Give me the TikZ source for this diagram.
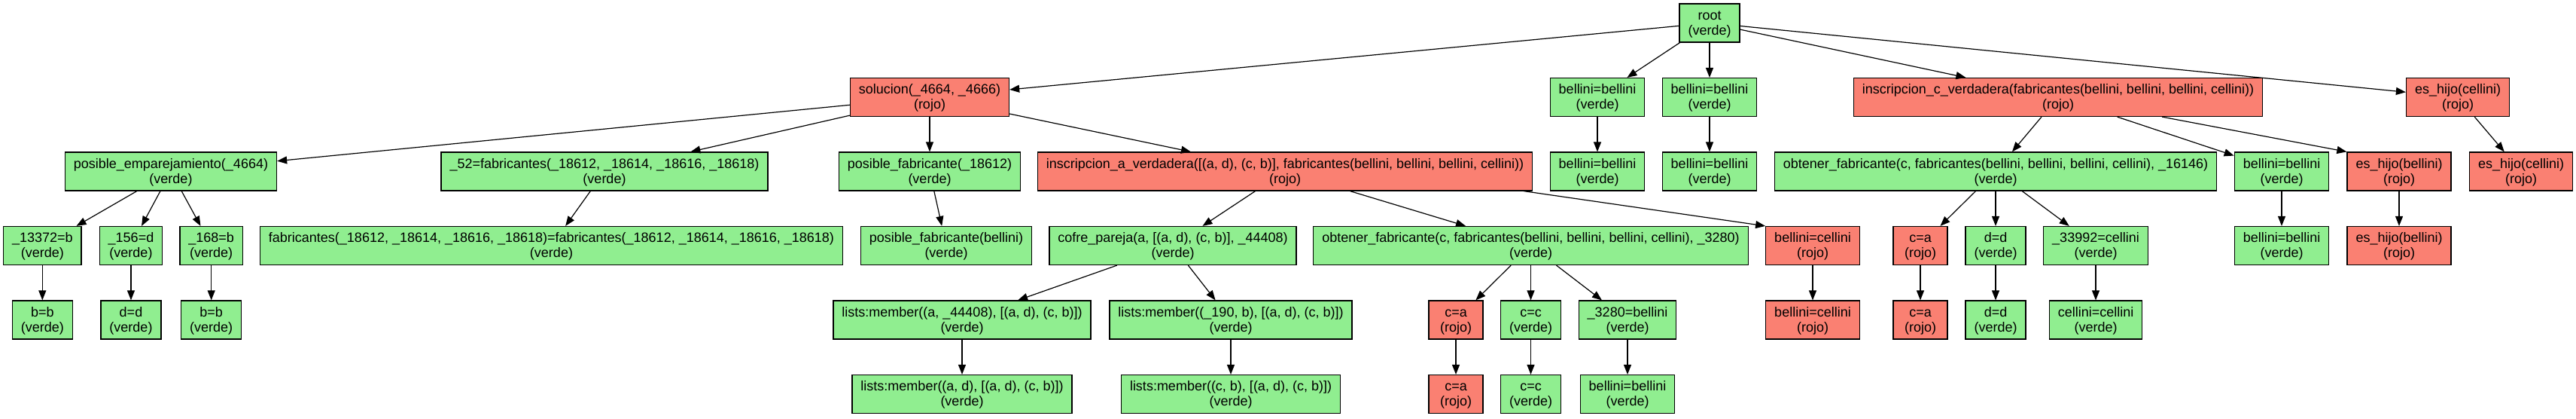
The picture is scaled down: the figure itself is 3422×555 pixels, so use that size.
\documentclass[tikz,border=0pt]{standalone}
\usepackage{fontspec}
\setmainfont{Liberation Sans}
\usepackage{tikz}
\usetikzlibrary{arrows.meta,positioning}
\definecolor{verdeclaro}{HTML}{90EE90}
\definecolor{salmon}{HTML}{FA8072}
\tikzset{%
verde/.style={rectangle, draw=black, line width=1.2pt, fill=verdeclaro, align=center, minimum width=72pt, minimum height=51pt, inner xsep=11.5pt, inner ysep=0pt, text height=34.8pt, text depth=3.2pt, font=\fontsize{18pt}{20pt}\selectfont},
rojo/.style={verde, fill=salmon},
pt/.style={draw=black, line width=1.2pt}
}

\begin{document}
\begin{tikzpicture}[->,>={Triangle[length=13pt,width=10pt]},
		x=1pt,y=1pt,node distance=98.5pt,
		pt/.style={draw=black, line width=1.2pt}]
		\useasboundingbox (0,0) rectangle (3422,-555);
		\node[verde] (root) at (2271,-30.5) {root\\(verde)};
		% nivel 1
		\node[rojo] (sol) [below of=root, xshift=-1036pt] {solucion(\_4664, \_4666)\\(rojo)};
		\node[verde] (bb1) [below of=root, xshift=-149pt] {bellini=bellini\\(verde)};
		\node[verde] (bb2) [below of=root] {bellini=bellini\\(verde)};
		\node[rojo] (insC) [below of=root, xshift=463pt] {inscripcion\_c\_verdadera(fabricantes(bellini, bellini, bellini, cellini))\\(rojo)};
		\node[rojo] (hijoC) [below of=root, xshift=994pt] {es\_hijo(cellini)\\(rojo)};
		% nivel 2
		\node[verde] (pemp) [below of=sol, xshift=-1008pt] {posible\_emparejamiento(\_4664)\\(verde)};
		\node[verde] (f52) [below of=sol, xshift=-432pt] {\_52=fabricantes(\_18612, \_18614, \_18616, \_18618)\\(verde)};
		\node[verde] (pfab) [below of=sol] {posible\_fabricante(\_18612)\\(verde)};
		\node[rojo] (insA) [below of=sol, xshift=472pt] {inscripcion\_a\_verdadera([(a, d), (c, b)], fabricantes(bellini, bellini, bellini, cellini))\\(rojo)};
		\node[verde] (bb1b) [below of=bb1] {bellini=bellini\\(verde)};
		\node[verde] (bb2b) [below of=bb2] {bellini=bellini\\(verde)};
		\node[verde] (obtC) [below of=insC, xshift=-83pt] {obtener\_fabricante(c, fabricantes(bellini, bellini, bellini, cellini), \_16146)\\(verde)};
		\node[verde] (bb3) [below of=insC, xshift=297pt] {bellini=bellini\\(verde)};
		\node[rojo] (hijoB) [below of=insC, xshift=453pt] {es\_hijo(bellini)\\(rojo)};
		\node[rojo] (hijoCb) [below of=hijoC, xshift=84pt] {es\_hijo(cellini)\\(rojo)};
		% nivel 3
		\node[verde] (u13372) [below of=pemp, xshift=-170.7pt] {\_13372=b\\(verde)};
		\node[verde] (u156) [below of=pemp, xshift=-53pt] {\_156=d\\(verde)};
		\node[verde] (u168) [below of=pemp, xshift=53.7pt] {\_168=b\\(verde)};
		\node[verde] (ffab) [below of=f52, xshift=-70.5pt] {fabricantes(\_18612, \_18614, \_18616, \_18618)=fabricantes(\_18612, \_18614, \_18616, \_18618)\\(verde)};
		\node[verde] (pfabB) [below of=pfab, xshift=22pt] {posible\_fabricante(bellini)\\(verde)};
		\node[verde] (cofre) [below of=insA, xshift=-149pt] {cofre\_pareja(a, [(a, d), (c, b)], \_44408)\\(verde)};
		\node[verde] (obtA) [below of=insA, xshift=326.5pt] {obtener\_fabricante(c, fabricantes(bellini, bellini, bellini, cellini), \_3280)\\(verde)};
		\node[rojo] (bcel) [below of=insA, xshift=701pt] {bellini=cellini\\(rojo)};
		\node[rojo] (ca1) [below of=obtC, xshift=-100pt] {c=a\\(rojo)};
		\node[verde] (dd1) [below of=obtC] {d=d\\(verde)};
		\node[verde] (u33992) [below of=obtC, xshift=133pt] {\_33992=cellini\\(verde)};
		\node[verde] (bb3b) [below of=bb3] {bellini=bellini\\(verde)};
		\node[rojo] (hijoBb) [below of=hijoB] {es\_hijo(bellini)\\(rojo)};
		% nivel 4
		\node[verde] (bb4) [below of=u13372] {b=b\\(verde)};
		\node[verde] (dd4) [below of=u156] {d=d\\(verde)};
		\node[verde] (bb5) [below of=u168] {b=b\\(verde)};
		\node[verde] (lm1) [below of=cofre, xshift=-280pt] {lists:member((a, \_44408), [(a, d), (c, b)])\\(verde)};
		\node[verde] (lm2) [below of=cofre, xshift=77pt] {lists:member((\_190, b), [(a, d), (c, b)])\\(verde)};
		\node[rojo] (ca2) [below of=obtA, xshift=-99.5pt] {c=a\\(rojo)};
		\node[verde] (cc1) [below of=obtA] {c=c\\(verde)};
		\node[verde] (u3280) [below of=obtA, xshift=128.5pt] {\_3280=bellini\\(verde)};
		\node[rojo] (bcelb) [below of=bcel] {bellini=cellini\\(rojo)};
		\node[rojo] (ca3) [below of=ca1] {c=a\\(rojo)};
		\node[verde] (dd5) [below of=dd1] {d=d\\(verde)};
		\node[verde] (ccel) [below of=u33992] {cellini=cellini\\(verde)};
		% nivel 5
		\node[verde] (lm3) [below of=lm1] {lists:member((a, d), [(a, d), (c, b)])\\(verde)};
		\node[verde] (lm4) [below of=lm2] {lists:member((c, b), [(a, d), (c, b)])\\(verde)};
		\node[rojo] (ca4) [below of=ca2] {c=a\\(rojo)};
		\node[verde] (cc2) [below of=cc1] {c=c\\(verde)};
		\node[verde] (bb6) [below of=u3280] {bellini=bellini\\(verde)};

		\path[pt] (root) edge (sol);
		\path[pt] (root) edge (bb1);
		\path[pt] (root) edge (bb2);
		\path[pt] (root) edge (insC);
		\path[pt] (root) edge (hijoC);
		\path[pt] (sol) edge (pemp);
		\path[pt] (sol) edge (f52);
		\path[pt] (sol) edge (pfab);
		\path[pt] (sol) edge (insA);
		\path[pt] (bb1) edge (bb1b);
		\path[pt] (bb2) edge (bb2b);
		\path[pt] (insC) edge (obtC);
		\path[pt] (insC) edge (bb3);
		\path[pt] (insC) edge (hijoB.north west);
		\path[pt] (hijoC) edge (hijoCb);
		\path[pt] (pemp) edge (u13372);
		\path[pt] (pemp) edge (u156);
		\path[pt] (pemp) edge (u168);
		\path[pt] (f52) edge (ffab);
		\path[pt] (pfab) edge (pfabB);
		\path[pt] (insA) edge (cofre);
		\path[pt] (insA) edge (obtA);
		\draw[pt] ([xshift=-12pt]insA.south east) -- (bcel.north west);
		\path[pt] (obtC) edge (ca1);
		\path[pt] (obtC) edge (dd1);
		\path[pt] (obtC) edge (u33992);
		\path[pt] (bb3) edge (bb3b);
		\path[pt] (hijoB) edge (hijoBb);
		\path[pt] (u13372) edge (bb4);
		\path[pt] (u156) edge (dd4);
		\path[pt] (u168) edge (bb5);
		\path[pt] (cofre) edge (lm1);
		\path[pt] (cofre) edge (lm2);
		\path[pt] (obtA) edge (ca2);
		\path[pt] (obtA) edge (cc1);
		\path[pt] (obtA) edge (u3280);
		\path[pt] (bcel) edge (bcelb);
		\path[pt] (ca1) edge (ca3);
		\path[pt] (dd1) edge (dd5);
		\path[pt] (u33992) edge (ccel);
		\path[pt] (lm1) edge (lm3);
		\path[pt] (lm2) edge (lm4);
		\path[pt] (ca2) edge (ca4);
		\path[pt] (cc1) edge (cc2);
		\path[pt] (u3280) edge (bb6);
	\end{tikzpicture}
\end{document}
